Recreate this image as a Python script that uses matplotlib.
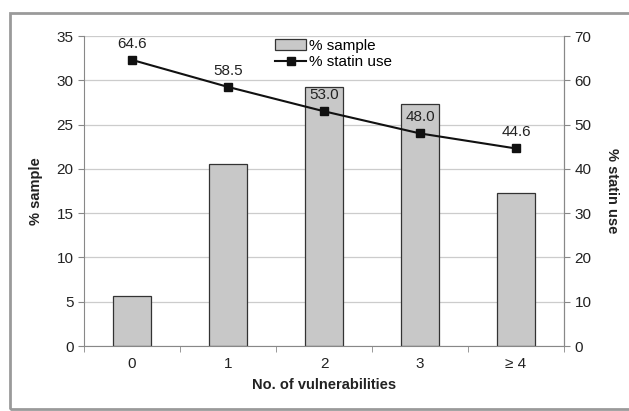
import numpy as np
import matplotlib.pyplot as plt
from matplotlib.patches import Rectangle

plt.rcParams['font.family'] = ['Liberation Sans', 'DejaVu Sans']

# data
categories = ['0', '1', '2', '3', '≥ 4']
pct_sample = [5.6, 20.6, 29.2, 27.3, 17.3]
pct_statin = [64.6, 58.5, 53.0, 48.0, 44.6]

fig = plt.figure(figsize=(6.29, 4.11), dpi=100)
ax = fig.add_axes([84/629, 1 - 346/411, (564-84)/629, (346-36)/411])

# outer grey frame
fig.patches.append(Rectangle((10/629, 2/411), 1.0, 396/411, transform=fig.transFigure,
                             fill=False, edgecolor='#9a9a9a', linewidth=2))

x = np.arange(len(categories))
ax.bar(x, pct_sample, width=0.4, color='#c8c8c8', edgecolor='#333333', linewidth=0.9,
       label='% sample', zorder=2)
ax.set_xlim(-0.5, len(categories) - 0.5)
ax.set_ylim(0, 35)
ax.set_yticks(np.arange(0, 36, 5))
ax.yaxis.grid(True, color='#cccccc', linewidth=0.9)
ax.set_axisbelow(True)
ax.set_xticks(x)
ax.set_xticklabels(categories)
ax.set_xticks(np.arange(-0.5, len(categories)), minor=True)
ax.tick_params(axis='x', which='major', length=0, pad=8, labelsize=11, colors='#222222')
ax.tick_params(axis='x', which='minor', length=4, color='#888888')
ax.tick_params(axis='y', length=4, color='#888888', labelsize=11, labelcolor='#222222')
for s in ['top']:
    ax.spines[s].set_visible(False)
for s in ['left', 'bottom', 'right']:
    ax.spines[s].set_color('#888888')
ax.set_xlabel('No. of vulnerabilities', fontweight='bold', fontsize=10.5, color='#222222',
              labelpad=5)
ax.set_ylabel('% sample', fontweight='bold', fontsize=10.5, color='#222222', labelpad=10)

ax2 = ax.twinx()
ax2.plot(x, pct_statin, color='#111111', marker='s', markersize=6, linewidth=1.5,
         label='% statin use')
ax2.set_ylim(0, 70)
ax2.set_yticks(np.arange(0, 71, 10))
ax2.tick_params(axis='y', length=4, color='#888888', labelsize=11, labelcolor='#222222')
ax2.spines['top'].set_visible(False)
ax2.spines['right'].set_color('#888888')
ax2.spines['left'].set_visible(False)
ax2.spines['bottom'].set_visible(False)
ax2.set_ylabel('% statin use', fontweight='bold', fontsize=10.5, color='#222222',
               rotation=270, labelpad=20)

for xi, v in zip(x, pct_statin):
    ax2.annotate(f'{v:.1f}', (xi, v), xytext=(0, 6.5), textcoords='offset points',
                 ha='center', va='bottom', fontsize=11, color='#222222')

h1, l1 = ax.get_legend_handles_labels()
h2, l2 = ax2.get_legend_handles_labels()
ax2.legend(h1 + h2, l1 + l2, loc='upper center', bbox_to_anchor=(0.52, 1.02),
           frameon=False, fontsize=11, handlelength=2.0, handletextpad=0.2,
           labelspacing=0.15, borderaxespad=0.2)

fig.savefig('out.png', dpi=100)
